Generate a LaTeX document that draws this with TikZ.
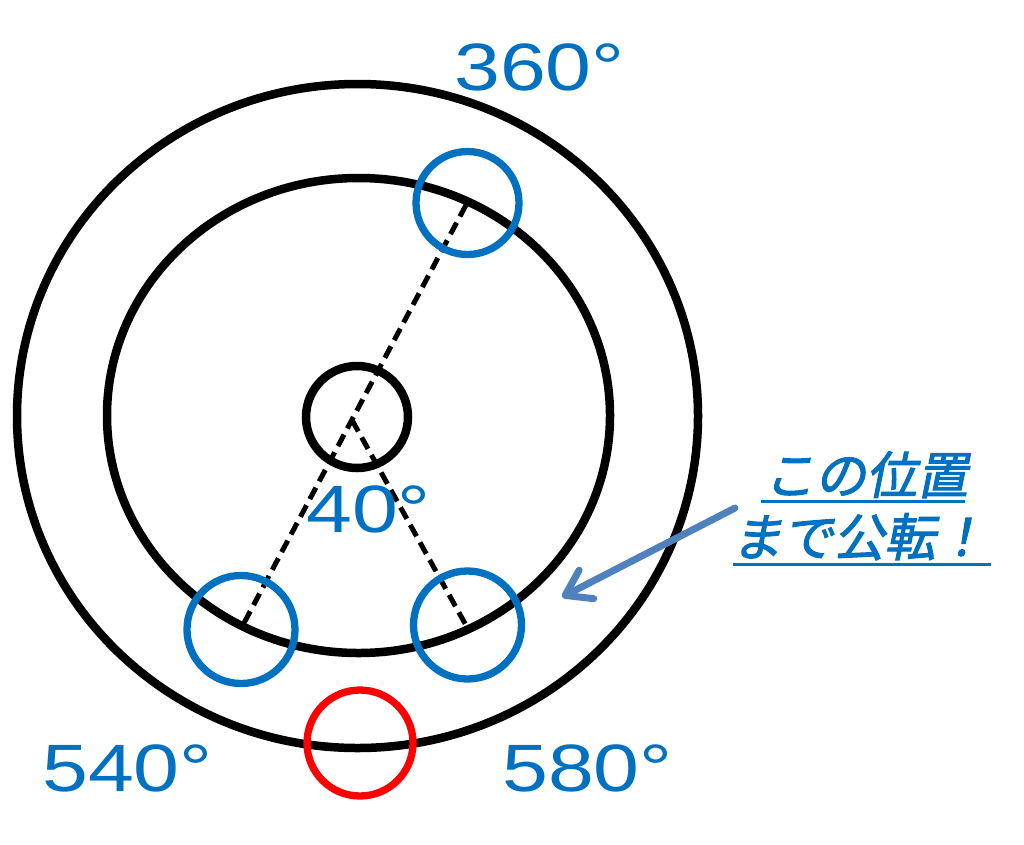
\documentclass[tikz,border=0pt]{standalone}
\usepackage{fontspec}
\setmainfont{Liberation Sans}
\newfontfamily\numfont[FakeStretch=1.23]{Liberation Sans}
\newfontfamily\jpfont[FakeSlant=0.2,FakeBold=2]{Noto Sans CJK JP}
\usetikzlibrary{arrows.meta,shapes.geometric}
\definecolor{lblue}{HTML}{0070C0}
\definecolor{lred}{HTML}{FF0000}
\definecolor{arrowblue}{HTML}{4F81BD}
\tikzset{
  ring/.style={draw=black, line width=8.5pt, inner sep=0pt},
  bluering/.style={circle, draw=lblue, line width=7.3pt, inner sep=0pt, minimum size=#1},
  redring/.style={circle, draw=lred, line width=7.3pt, inner sep=0pt, minimum size=#1},
  dashline/.style={draw=black, line width=5pt, dash pattern=on 13pt off 7pt},
  deglbl/.style={inner sep=0pt, text=lblue, font=\numfont\fontsize{67}{70}\selectfont},
  jplbl/.style={inner sep=0pt, text=lblue, font=\jpfont\fontsize{51}{56}\selectfont},
  uline/.style={draw=lblue, line width=3pt},
  bigarrow/.style={draw=arrowblue, line width=7pt, line cap=round,
    -{Straight Barb[length=24pt,width=32pt,round]}}
}
\begin{document}
\begin{tikzpicture}[x=1pt,y=-1pt]
\useasboundingbox (0,0) rectangle (1024,844);
% rings
\node[ring, ellipse, minimum width=681pt, minimum height=664pt] (outer) at (357.5,416) {};
\node[ring, ellipse, minimum width=503pt, minimum height=475pt] (inner) at (358.5,415.5) {};
% dashed lines
\coordinate (dtop) at (466,205);
\coordinate (dbl) at (244,623);
\coordinate (hub) at (352,420);
\coordinate (dbr) at (467.5,628);
\draw[dashline] (dtop) -- (dbl);
\draw[dashline] (hub) -- (dbr);
% centre circle
\node[ring, circle, minimum size=102pt] (sun) at (357,417) {};
% planet positions
\node[bluering=103pt] (p360) at (467.5,203) {};
\node[bluering=108pt] (p540) at (241,629.5) {};
\node[bluering=108pt] (p580) at (467.5,625) {};
\node[redring=106pt] (pred) at (360,743) {};
% arrow
\coordinate (astart) at (735,508);
\coordinate (atip) at (562,597);
\draw[bigarrow] (astart) -- (atip);
% labels
\node[deglbl, anchor=base west] (l360) at (454,90) {360°};
\node[deglbl, anchor=base west] (l40) at (306,532) {40°};
\node[deglbl, anchor=base west] (l540) at (42,791) {540°};
\node[deglbl, anchor=base west] (l580) at (502,791) {580°};
% japanese text
\node[jplbl, anchor=base] (t1) at (866,494) {この位置};
\node[jplbl, anchor=base] (t2) at (859,556) {まで公転！};
\coordinate (u1a) at (761,501);
\coordinate (u1b) at (965,501);
\coordinate (u2a) at (733,564);
\coordinate (u2b) at (991,564);
\draw[uline] (u1a) -- (u1b);
\draw[uline] (u2a) -- (u2b);
\end{tikzpicture}
\end{document}
